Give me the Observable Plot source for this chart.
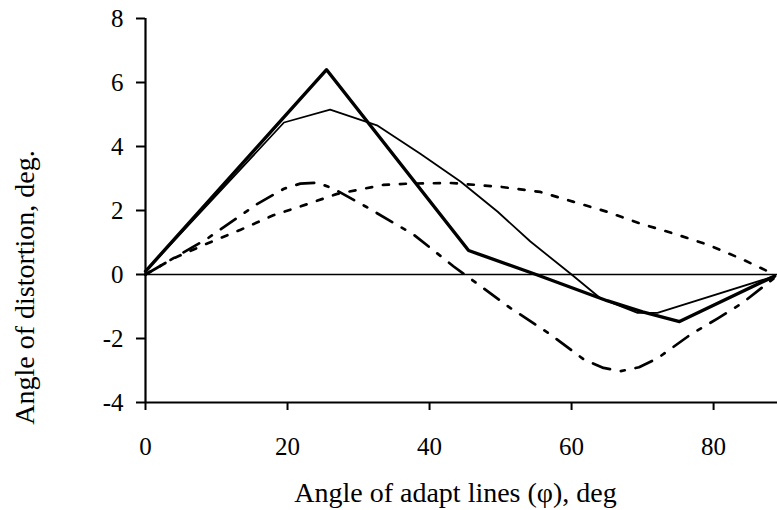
<!DOCTYPE html>
<html>
<head>
<meta charset="utf-8">
<script src="https://cdn.jsdelivr.net/npm/d3@7"></script>
<script src="https://cdn.jsdelivr.net/npm/@observablehq/plot@0.6"></script>
<style>
  html, body { margin: 0; padding: 0; background: #fff; }
  #chart svg { display: block; background: #fff; }
</style>
</head>
<body>
<div id="chart"></div>
<script>
// Series
const thickX = [0, 25.5, 45.5, 55, 65, 70, 75.2, 88.6];
const thickY = [0.1, 6.4, 0.75, 0, -0.82, -1.17, -1.47, -0.05];

const thinX = [0, 19.5, 26, 32.7, 38.7, 44.4, 49.6, 54.2, 60, 64.1, 69.3, 72.1, 88.6];
const thinY = [0.1, 4.75, 5.15, 4.65, 3.77, 2.9, 1.96, 1.03, 0, -0.75, -1.2, -1.2, -0.05];

const dashDotX = [0, 8.7, 15.7, 19.5, 21.8, 24.2, 26.5, 31.2, 37.8, 43.4, 47.6, 51.4, 57, 61.7, 64.5, 66.9, 69.5, 72.1, 76.8, 80.6, 84, 88.6];
const dashDotY = [0, 1.12, 2.2, 2.68, 2.84, 2.87, 2.68, 2.1, 1.24, 0.25, -0.43, -1.05, -1.87, -2.65, -2.92, -3.02, -2.9, -2.62, -1.87, -1.37, -0.9, -0.1];

const dottedX = [0, 3.9, 8.7, 13.4, 18, 22.8, 27, 33.5, 37, 43, 50, 55.6, 60.3, 65, 69.7, 74.4, 79.2, 83.8, 88.6];
const dottedY = [0, 0.5, 0.97, 1.4, 1.85, 2.2, 2.52, 2.8, 2.84, 2.86, 2.74, 2.58, 2.27, 1.96, 1.59, 1.28, 0.93, 0.5, 0];

const xTicks = [0, 20, 40, 60, 80];
const yTicks = [-4, -2, 0, 2, 4, 6, 8];
const xLabel = "Angle of adapt lines (φ), deg";
const yLabel = "Angle of distortion, deg.";

const toRows = (xs, ys) => xs.map((x, i) => ({x, y: ys[i]}));

const font = "'Liberation Serif', 'Times New Roman', serif";

const chart = Plot.plot({
  width: 777,
  height: 510,
  marginLeft: 145,
  marginRight: 0,
  marginTop: 18,
  marginBottom: 108,
  style: {fontFamily: font, color: "#000", background: "#fff"},
  x: {domain: [0, 89]},
  y: {domain: [-4, 8]},
  marks: [
    Plot.ruleY([0], {stroke: "#000", strokeWidth: 1.6}),
    Plot.line(toRows(dottedX, dottedY), {x: "x", y: "y", stroke: "#000", strokeWidth: 2.7, strokeDasharray: "6,11"}),
    Plot.line(toRows(dashDotX, dashDotY), {x: "x", y: "y", stroke: "#000", strokeWidth: 2.7, strokeDasharray: "18,11,4,11"}),
    Plot.line(toRows(thinX, thinY), {x: "x", y: "y", stroke: "#000", strokeWidth: 1.8}),
    Plot.line(toRows(thickX, thickY), {x: "x", y: "y", stroke: "#000", strokeWidth: 3.4}),
    Plot.ruleX([0], {stroke: "#000", strokeWidth: 2.2}),
    Plot.ruleY([-4], {stroke: "#000", strokeWidth: 2.2}),
    Plot.axisX({ticks: xTicks, tickSize: 8, strokeWidth: 2, label: null, tickFormat: () => ""}),
    Plot.axisY({ticks: yTicks, tickSize: 9, strokeWidth: 2, label: null, tickFormat: () => ""}),
    Plot.text(xTicks, {x: d => d, text: d => String(d), frameAnchor: "bottom", lineAnchor: "middle", dy: 44, fontSize: 25, fontFamily: font, fill: "#000"}),
    Plot.text(yTicks, {y: d => d, text: d => String(d), frameAnchor: "left", textAnchor: "end", lineAnchor: "middle", dx: -22, fontSize: 25, fontFamily: font, fill: "#000"}),
    Plot.text([xLabel], {frameAnchor: "bottom", lineAnchor: "middle", dy: 91, dx: -6, fontSize: 28, fontFamily: font, fill: "#000"}),
    Plot.text([yLabel], {frameAnchor: "left", textAnchor: "middle", lineAnchor: "middle", dx: -120, dy: 77, rotate: -90, fontSize: 28, fontFamily: font, fill: "#000"})
  ]
});
document.getElementById("chart").appendChild(chart);
</script>
</body>
</html>
